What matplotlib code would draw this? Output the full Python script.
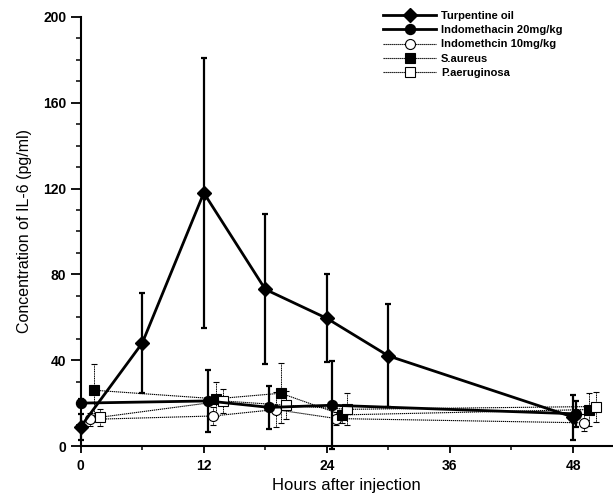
import matplotlib
matplotlib.use("Agg")
import matplotlib.pyplot as plt
from matplotlib.ticker import MultipleLocator

plt.rcParams['font.family'] = ['Liberation Sans', 'DejaVu Sans']

# ---- data ----
turp_h = [0, 6, 12, 18, 24, 30, 48]
turp_v = [9, 48, 118, 73, 59.5, 42, 13.5]
turp_e = [6, 23.5, 63, 35, 20.5, 24, 10.5]

indo20_h = [0, 12.4, 18.4, 24.5, 48.3]
indo20_v = [20, 21, 18, 19, 15]
indo20_e = [2, 14.5, 10, 20.5, 6]

indo10_h = [0.9, 12.9, 19.0, 24.9, 49.1]
indo10_v = [12.4, 14, 17, 12.8, 10.8]
indo10_e = [3, 4.3, 8, 3, 4]

saur_h = [1.3, 13.2, 19.5, 25.5, 49.6]
saur_v = [26, 22, 24.6, 14.5, 17]
saur_e = [12.4, 8, 14, 4, 7.5]

paer_h = [1.9, 13.9, 20.0, 26.0, 50.2]
paer_v = [13.4, 21, 19, 17.1, 18.4]
paer_e = [4, 5.5, 6.5, 7.4, 7]

labels = ["Turpentine oil", "Indomethacin 20mg/kg", "Indomethcin 10mg/kg",
          "S.aureus", "P.aeruginosa"]
xticks = [0, 12, 24, 36, 48]
yticks = [0, 40, 80, 120, 160, 200]

fig = plt.figure(figsize=(6.13, 4.99), dpi=100)
ax = fig.add_axes([0.1317, 0.1062, 0.8683, 0.8598])

thin_ls = (0, (1.2, 0.6))

def thin(h, v, e, marker, mfc, ms, label):
    c = ax.errorbar(h, v, yerr=e, fmt='-', color='black', lw=0.8, ls=thin_ls,
                    marker=marker, mfc=mfc, mec='black', mew=0.8, ms=ms,
                    elinewidth=0.7, capsize=2, capthick=0.7,
                    label=label, zorder=3, clip_on=False)
    for lc in c[2]:
        lc.set_linestyle(thin_ls)
    return c

c_i10 = thin(indo10_h, indo10_v, indo10_e, 'o', 'white', 7.2, labels[2])
c_sa = thin(saur_h, saur_v, saur_e, 's', 'black', 6.8, labels[3])
c_pa = thin(paer_h, paer_v, paer_e, 's', 'white', 6.8, labels[4])

c_i20 = ax.errorbar(indo20_h, indo20_v, yerr=indo20_e, fmt='-', color='black', lw=2,
                    marker='o', mfc='black', mec='black', ms=7.2,
                    elinewidth=1.6, capsize=2.5, capthick=1.6,
                    label=labels[1], zorder=4, clip_on=False)
c_tu = ax.errorbar(turp_h, turp_v, yerr=turp_e, fmt='-', color='black', lw=2,
                   marker='D', mfc='black', mec='black', ms=7.5,
                   elinewidth=1.6, capsize=2.5, capthick=1.6,
                   label=labels[0], zorder=5, clip_on=False)

ax.set_xlim(0, 51.9)
ax.set_ylim(0, 200)
ax.set_xticks(xticks)
ax.set_yticks(yticks)
ax.xaxis.set_minor_locator(MultipleLocator(6))
ax.yaxis.set_minor_locator(MultipleLocator(10))
for s in ['top', 'right']:
    ax.spines[s].set_visible(False)
for s in ['left', 'bottom']:
    ax.spines[s].set_linewidth(1.5)
ax.tick_params(axis='both', which='major', direction='out', length=7, width=1.3,
               labelsize=10)
ax.tick_params(axis='both', which='minor', direction='out', length=3.5, width=1.1)
ax.tick_params(axis='x', which='major', length=5, pad=4)
ax.tick_params(axis='x', which='minor', length=3)
for t in ax.get_xticklabels() + ax.get_yticklabels():
    t.set_fontweight('bold')

ax.set_xlabel("Hours after injection", fontsize=12, labelpad=4)
ax.set_ylabel("Concentration of IL-6 (pg/ml)", fontsize=11.5, labelpad=8)

handles = [c_tu[0], c_i20[0], c_i10[0], c_sa[0], c_pa[0]]
fig.legend(handles, labels, loc='upper left',
           bbox_to_anchor=(383 / 613, 1 - 11 / 499), frameon=False,
           prop={'size': 8, 'weight': 'bold'}, handlelength=4.8,
           handletextpad=0.4, labelspacing=0.38, borderpad=0,
           borderaxespad=0)

fig.savefig("out.png", dpi=100)
